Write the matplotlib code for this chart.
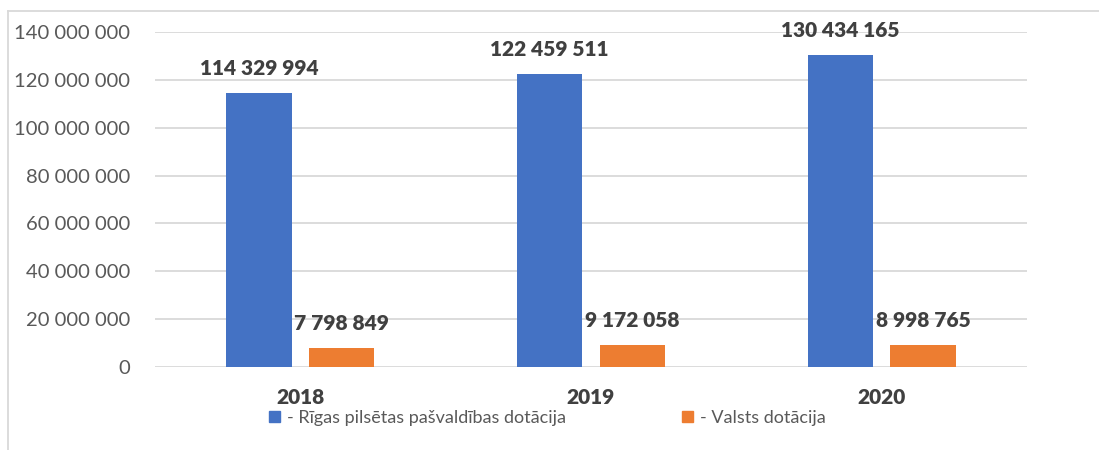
import numpy as np
import matplotlib.pyplot as plt
from matplotlib.lines import Line2D
from matplotlib.patches import Patch

# dati
gadi = ["2018", "2019", "2020"]
riga = [114329994, 122459511, 130434165]
valsts = [7798849, 9172058, 8998765]
nosaukumi = ["- Rīgas pilsētas pašvaldības dotācija", "- Valsts dotācija"]

zils = "#4472C4"
oranzs = "#ED7D31"
teksts = "#595959"
virsraksts = "#404040"
rezga = "#D9D9D9"

plt.rcParams["font.family"] = ["Lato", "DejaVu Sans"]


def fmt(v):
    return f"{v:,}".replace(",", " ")


fig = plt.figure(figsize=(10.99, 4.5), dpi=100)
ax = fig.add_axes([0.141, 0.1844, 0.7935, 0.7444])

x = np.arange(len(gadi))
w = 0.224
off = 0.142
b1 = ax.bar(x - off, riga, w, color=zils, zorder=3)
b2 = ax.bar(x + off, valsts, w, color=oranzs, zorder=3)

for bars in (b1, b2):
    for b in bars:
        ax.annotate(fmt(int(b.get_height())), (b.get_x() + b.get_width() / 2, b.get_height()),
                    xytext=(0, 11), textcoords="offset points", ha="center", va="bottom",
                    fontsize=15, fontweight="heavy", color=virsraksts)

ax.set_xlim(-0.5, 2.5)
ax.set_ylim(0, 140000000)
ax.set_yticks(np.arange(0, 140000001, 20000000))
ax.set_yticklabels([fmt(int(t)) for t in ax.get_yticks()], fontsize=14.6, color=teksts)
ax.tick_params(length=0)
ax.tick_params(axis="y", pad=18)
ax.set_xticks(x)
ax.set_xticklabels(gadi, fontsize=15, fontweight="heavy", color=virsraksts)
ax.tick_params(axis="x", pad=15)
ax.grid(axis="y", color=rezga, linewidth=1.3, zorder=0)
for s in ax.spines.values():
    s.set_visible(False)

roki = [Patch(color=zils), Patch(color=oranzs)]
leg = fig.legend(roki, nosaukumi, loc="center", bbox_to_anchor=(0.498, 0.071), ncol=2,
                 frameon=False, fontsize=13, handlelength=0.6, handleheight=0.6,
                 handletextpad=0.4, columnspacing=6.4)
for t in leg.get_texts():
    t.set_color(teksts)

# ramis
fig.add_artist(Line2D([0.0073, 0.0073], [0.0, 0.9756], color=rezga, linewidth=1.3))
fig.add_artist(Line2D([0.0073, 1.0], [0.9756, 0.9756], color=rezga, linewidth=1.3))

fig.savefig("out.png", dpi=100)
